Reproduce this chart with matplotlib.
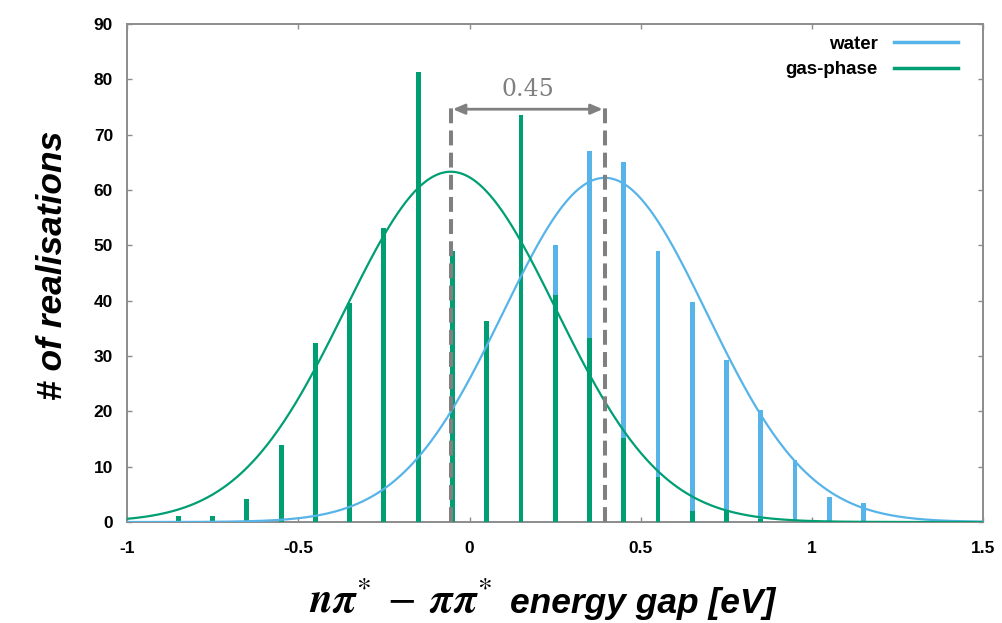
import numpy as np
import matplotlib
matplotlib.use("Agg")
import matplotlib.pyplot as plt

plt.rcParams['axes.unicode_minus'] = False
plt.rcParams['mathtext.fontset'] = 'stix'
plt.rcParams['font.family'] = ['Liberation Sans', 'DejaVu Sans']

# Histogram bin centres (eV) and counts
bin_centres = [-0.85, -0.75, -0.65, -0.55, -0.45, -0.35, -0.25, -0.15, -0.05,
               0.05, 0.15, 0.25, 0.35, 0.45, 0.55, 0.65, 0.75, 0.85, 0.95,
               1.05, 1.15]
gas_counts = [1.1, 1.1, 4.2, 14.0, 32.3, 39.5, 53.2, 81.4, 49.0,
              36.3, 73.5, 41.0, 33.3, 15.2, 8.2, 1.9, 2.1, 0.5, 0.0,
              0.0, 0.0]
water_counts = [0.0, 0.0, 0.0, 0.0, 0.5, 1.5, 3.0, 8.0, 18.0,
                30.0, 40.0, 50.0, 67.0, 65.0, 49.0, 39.8, 29.3, 20.2, 11.2,
                4.6, 3.4]

# Gaussian fit parameters: amplitude, centre (eV), width (eV)
gas_fit = (63.3, -0.055, 0.308)
water_fit = (62.2, 0.395, 0.298)

series_labels = ["water", "gas-phase"]
water_color = "#56B4E9"
gas_color = "#009E73"
grey = "#808080"


def gaussian(x, amp, mu, sigma):
    return amp * np.exp(-(x - mu) ** 2 / (2 * sigma ** 2))


fig = plt.figure(figsize=(10.02, 6.23), dpi=100)
ax = fig.add_axes([0.1267, 0.1621, 0.9814 - 0.1267, 0.9615 - 0.1621])

bar_w = 0.014
ax.bar(bin_centres, water_counts, width=bar_w, color=water_color, zorder=2)
ax.bar(bin_centres, gas_counts, width=bar_w, color=gas_color, zorder=3)

xs = np.linspace(-1.0, 1.5, 600)
ax.plot(xs, gaussian(xs, *water_fit), color=water_color, lw=1.6, zorder=4,
        label=series_labels[0])
ax.plot(xs, gaussian(xs, *gas_fit), color=gas_color, lw=1.6, zorder=4,
        label=series_labels[1])

# Peak positions and their separation
mu_gas = gas_fit[1]
mu_water = water_fit[1]
marker_top = 74.6
ax.vlines([mu_gas, mu_water], 0, marker_top + 0.6, colors=grey, lw=2.9,
          linestyles=[(0, (3.7, 1.8))], zorder=5)
ax.annotate('', xy=(mu_water, marker_top), xytext=(mu_gas, marker_top),
            arrowprops=dict(arrowstyle='<|-|>,head_length=0.7,head_width=0.3',
                            color=grey, lw=2, shrinkA=1.5, shrinkB=1.5),
            zorder=6)
ax.text((mu_gas + mu_water) / 2, 78.1, f"{mu_water - mu_gas:.2f}",
        ha='center', va='center', fontsize=17, color=grey,
        family='DejaVu Serif', zorder=6)

ax.set_xlim(-1.0, 1.5)
ax.set_ylim(0, 90)
ax.set_xticks([-1, -0.5, 0, 0.5, 1, 1.5])
ax.set_xticklabels(["-1", "-0.5", "0", "0.5", "1", "1.5"])
ax.set_yticks(np.arange(0, 91, 10))

for sp in ax.spines.values():
    sp.set_color("#8c8c8c")
    sp.set_linewidth(1.4)
ax.tick_params(axis='both', direction='in', length=3.5, width=1,
               color="#8c8c8c", top=True, right=True, labelsize=12.5)
ax.tick_params(axis='x', pad=14)
ax.tick_params(axis='y', pad=10)
for lab in ax.get_xticklabels() + ax.get_yticklabels():
    lab.set_fontweight('bold')

ax.set_ylabel("# of realisations", fontsize=25.5, fontweight='bold',
              style='italic')
ax.yaxis.set_label_coords(-0.0678, 0.516)

# x-axis title: symbolic part in bold italic maths, followed by sans text
label_y = -0.183
ax.text(0.4265, label_y,
        r"$\boldsymbol{n\pi}^{*}\;-\;\boldsymbol{\pi\pi}^{*}$",
        transform=ax.transAxes, ha='right', va='baseline', fontsize=30)
ax.text(0.4475, label_y, "energy gap [eV]", transform=ax.transAxes,
        ha='left', va='baseline', fontsize=25.5, fontweight='bold',
        style='italic')

leg = ax.legend(loc='upper right', markerfirst=False, frameon=False,
                handlelength=3.4, handletextpad=0.9, labelspacing=0.45,
                borderaxespad=0.4, bbox_to_anchor=(0.988, 1.007),
                prop=dict(weight='bold', size=13.5))
for line in leg.get_lines():
    line.set_linewidth(2.5)

fig.savefig("out.png", dpi=100)
